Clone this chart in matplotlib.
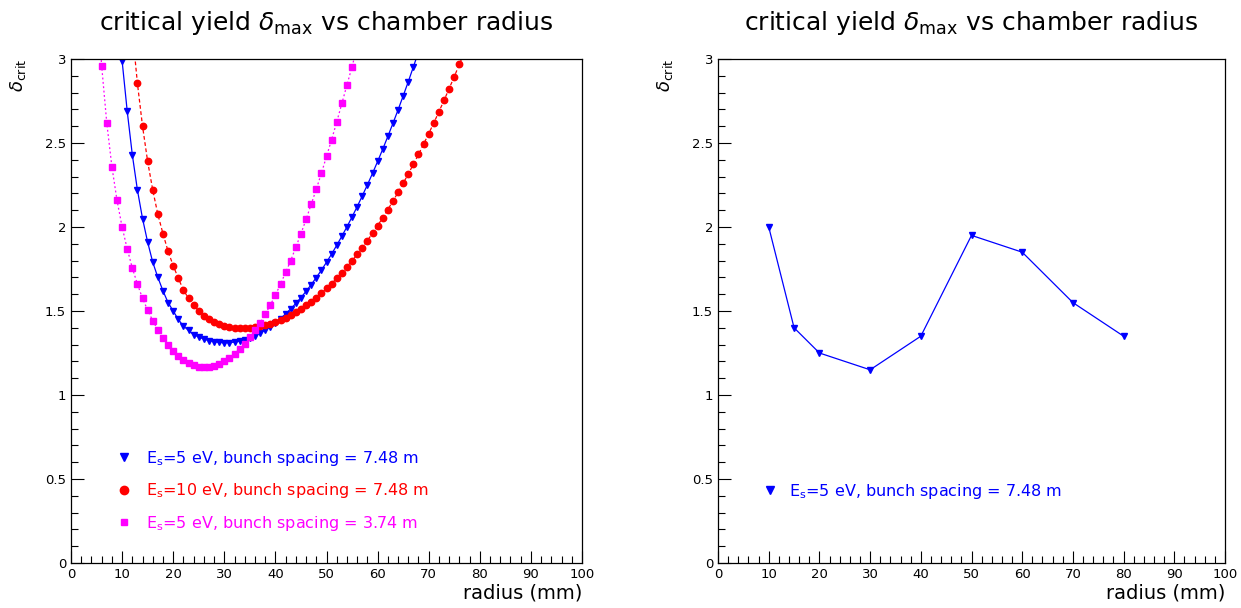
import numpy as np
import matplotlib.pyplot as plt
from matplotlib.lines import Line2D
from matplotlib.ticker import MultipleLocator

plt.rcParams['font.family'] = ['DejaVu Sans']
plt.rcParams['mathtext.fontset'] = 'dejavusans'

# left panel: scan in 1 mm steps
r_blue = np.arange(10, 69)
d_blue = [2.99, 2.69, 2.43, 2.22, 2.05, 1.91, 1.79, 1.70, 1.62, 1.55,
          1.50, 1.45, 1.41, 1.385, 1.36, 1.345, 1.333, 1.324, 1.318, 1.313,
          1.311, 1.312, 1.315, 1.321, 1.329, 1.34, 1.353, 1.369, 1.387, 1.407,
          1.43, 1.455, 1.483, 1.513, 1.545, 1.58, 1.617, 1.657, 1.699, 1.743,
          1.79, 1.839, 1.891, 1.945, 2.001, 2.06, 2.121, 2.185, 2.251, 2.319,
          2.39, 2.463, 2.539, 2.617, 2.697, 2.78, 2.865, 2.953, 3.043]

r_red = np.arange(12, 78)
d_red = [3.17, 2.855, 2.60, 2.39, 2.22, 2.075, 1.96, 1.855, 1.77, 1.695,
         1.625, 1.575, 1.535, 1.50, 1.472, 1.45, 1.434, 1.421, 1.411, 1.404,
         1.399, 1.397, 1.397, 1.399, 1.402, 1.408, 1.415, 1.423, 1.434, 1.446,
         1.46, 1.476, 1.493, 1.512, 1.533, 1.556, 1.58, 1.606, 1.634, 1.663,
         1.695, 1.728, 1.763, 1.799, 1.837, 1.877, 1.919, 1.963, 2.008, 2.055,
         2.104, 2.154, 2.206, 2.26, 2.316, 2.373, 2.432, 2.493, 2.556, 2.62,
         2.686, 2.754, 2.824, 2.895, 2.968, 3.043]

r_mag = np.arange(5, 57)
d_mag = [3.42, 2.96, 2.62, 2.36, 2.16, 2.00, 1.87, 1.756, 1.66, 1.575,
         1.505, 1.442, 1.387, 1.34, 1.298, 1.262, 1.232, 1.208, 1.189, 1.176,
         1.168, 1.165, 1.167, 1.174, 1.186, 1.202, 1.222, 1.246, 1.274, 1.306,
         1.343, 1.385, 1.43, 1.48, 1.535, 1.595, 1.66, 1.73, 1.80, 1.88,
         1.96, 2.045, 2.135, 2.225, 2.32, 2.42, 2.52, 2.625, 2.735, 2.845,
         2.955, 3.07]

# right panel
r_right = [10, 15, 20, 30, 40, 50, 60, 70, 80]
d_right = [2.00, 1.40, 1.25, 1.15, 1.35, 1.95, 1.85, 1.55, 1.35]

lab_blue = r'E$_{\rm s}$=5 eV, bunch spacing = 7.48 m'
lab_red = r'E$_{\rm s}$=10 eV, bunch spacing = 7.48 m'
lab_mag = r'E$_{\rm s}$=5 eV, bunch spacing = 3.74 m'
title = r'critical yield $\delta_{\rm max}$ vs chamber radius'

BLUE, RED, MAG = '#0000ff', '#ff0000', '#ff00ff'

fig = plt.figure(figsize=(12.41, 6.08), dpi=100)
ax1 = fig.add_axes([0.0572, 0.074, 0.4118, 0.829])
ax2 = fig.add_axes([0.5786, 0.074, 0.4085, 0.829])

ax1.plot(r_blue, d_blue, color=BLUE, ls='-', lw=0.9, marker='v', ms=4.5)
ax1.plot(r_red, d_red, color=RED, ls=(0, (3, 2)), lw=0.9, marker='o', ms=4.6)
ax1.plot(r_mag, d_mag, color=MAG, ls=(0, (1.5, 2)), lw=0.9, marker='s', ms=4)

ax2.plot(r_right, d_right, color=BLUE, ls='-', lw=0.9, marker='v', ms=4.5)

for ax in (ax1, ax2):
    ax.set_xlim(0, 100)
    ax.set_ylim(0, 3)
    ax.xaxis.set_major_locator(MultipleLocator(10))
    ax.xaxis.set_minor_locator(MultipleLocator(2))
    ax.yaxis.set_major_locator(MultipleLocator(0.5))
    ax.yaxis.set_minor_locator(MultipleLocator(0.1))
    ax.tick_params(which='both', direction='in', top=False, right=False,
                   labelsize=9.5, width=0.8)
    ax.tick_params(which='major', length=9)
    ax.tick_params(which='minor', length=5)
    ax.yaxis.set_major_formatter(plt.FuncFormatter(lambda v, p: f'{v:g}'))
    for s in ax.spines.values():
        s.set_linewidth(0.9)
    ax.set_xlabel('radius (mm)', loc='right', fontsize=14, labelpad=2)
    ax.set_ylabel(r'$\delta_{\rm crit}$', loc='top', fontsize=13, labelpad=12)
    ax.text(0.5, 1.072, title, ha='center', va='center', fontsize=18,
            transform=ax.transAxes)

h1 = [Line2D([], [], color=c, ls='none', marker=m, ms=s)
      for c, m, s in [(BLUE, 'v', 5.5), (RED, 'o', 6), (MAG, 's', 5)]]
ax1.legend(h1, [lab_blue, lab_red, lab_mag], loc='lower left',
           bbox_to_anchor=(0.06, 0.031), frameon=False, fontsize=11.5,
           handlelength=1.0, handletextpad=0.9, labelspacing=0.85,
           labelcolor=[BLUE, RED, MAG])

h2 = [Line2D([], [], color=BLUE, ls='none', marker='v', ms=5.5)]
ax2.legend(h2, [lab_blue], loc='lower left', bbox_to_anchor=(0.058, 0.095),
           frameon=False, fontsize=11.5, handlelength=1.0, handletextpad=0.7,
           labelcolor=[BLUE])

fig.savefig('out.png', dpi=100)
